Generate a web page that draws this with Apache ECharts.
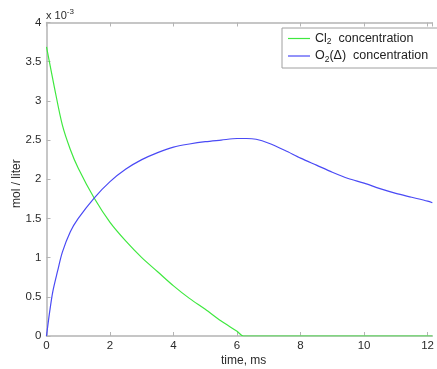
<!DOCTYPE html>
<html><head><meta charset="utf-8">
<script src="https://cdn.jsdelivr.net/npm/echarts@6/dist/echarts.min.js"></script>
<style>html,body{margin:0;padding:0;background:#fff}#c{width:437px;height:369px}</style>
</head><body><div id="c"></div>
<script>
// time in ms, concentrations in units of 1e-3 mol/liter
const cl2Time = [0, 0.25, 0.5, 0.75, 1.0, 1.5, 2.0, 2.5, 3.0, 3.5, 4.0, 4.5, 5.0, 5.5, 6.0, 6.2, 7, 8, 9, 10, 11, 12, 12.15];
const cl2Conc = [3.69, 3.17, 2.69, 2.38, 2.14, 1.76, 1.45, 1.21, 1.0, 0.82, 0.64, 0.48, 0.34, 0.19, 0.06, 0, 0, 0, 0, 0, 0, 0, 0];
const o2Time = [0, 0.1, 0.2, 0.35, 0.5, 0.75, 1.0, 1.5, 2.0, 2.5, 3.0, 3.5, 4.0, 4.5, 5.0, 5.5, 6.0, 6.3, 6.6, 7.0, 7.5, 8.0, 8.5, 9.0, 9.5, 10.0, 10.5, 11.0, 11.5, 12.0, 12.15];
const o2Conc = [0, 0.31, 0.57, 0.83, 1.07, 1.33, 1.50, 1.76, 1.97, 2.13, 2.25, 2.34, 2.41, 2.45, 2.48, 2.50, 2.52, 2.52, 2.51, 2.46, 2.37, 2.27, 2.18, 2.09, 2.01, 1.95, 1.88, 1.82, 1.77, 1.72, 1.70];
const seriesNames = ['Cl2 concentration', 'O2(Δ) concentration'];
const xLabel = 'time, ms';
const yLabel = 'mol / liter';

const font = 'Liberation Sans, Arial, sans-serif';
const axisColor = '#b4b4b4';
const textColor = '#2a2a2a';
const chart = echarts.init(document.getElementById('c'));
chart.setOption({
  animation: false,
  grid: {left: 46.5, right: 0, top: 22.5, bottom: 33, containLabel: false},
  xAxis: [{
    type: 'value', min: 0, max: 12.15, interval: 2,
    axisLine: {lineStyle: {color: axisColor, width: 1.5}},
    axisTick: {inside: true, length: 4, lineStyle: {color: axisColor}},
    axisLabel: {color: textColor, fontFamily: font, fontSize: 11.5, margin: 4, showMaxLabel: false},
    splitLine: {show: false}
  }, {
    type: 'value', min: 0, max: 12.15, interval: 2, position: 'top',
    axisLine: {show: true, lineStyle: {color: axisColor, width: 1.5}},
    axisTick: {inside: true, length: 4, lineStyle: {color: axisColor}},
    axisLabel: {show: false}, splitLine: {show: false}
  }],
  yAxis: [{
    type: 'value', min: 0, max: 4, interval: 0.5,
    axisLine: {show: true, lineStyle: {color: axisColor, width: 1.5}},
    axisTick: {show: true, inside: true, length: 4, lineStyle: {color: axisColor}},
    axisLabel: {color: textColor, fontFamily: font, fontSize: 11.5, margin: 5},
    splitLine: {show: false}
  }],
  legend: {
    orient: 'vertical', left: 282, top: 28,
    padding: [4, 40, 4, 6], itemGap: 3,
    itemWidth: 22, itemHeight: 1.2, icon: 'rect',
    borderColor: '#a0a0a0', borderWidth: 1, backgroundColor: '#fff',
    data: seriesNames,
    formatter: function (n) {
      if (n === seriesNames[0]) return 'Cl{sub|2}  concentration';
      return 'O{sub|2}(Δ)  concentration';
    },
    textStyle: {
      color: '#222', fontFamily: font, fontSize: 12.5,
      rich: {sub: {fontSize: 8.5, fontFamily: font, color: '#222', padding: [7, 0, 0, 0]}}
    }
  },
  graphic: [
    {type: 'text', left: 46, top: 8, style: {
      text: 'x 10{sup|-3}', fill: textColor, font: '11px ' + font,
      rich: {sup: {fontSize: 8, fontFamily: font, fill: textColor, padding: [0, 0, 7, 0]}}
    }},
    {type: 'text', left: 221, top: 355, style: {text: xLabel, fill: textColor, font: '12px ' + font}},
    {type: 'text', x: 11, y: 208, rotation: Math.PI / 2, style: {text: yLabel, fill: textColor, font: '12px ' + font}}
  ],
  series: [{
    name: seriesNames[0], type: 'line', symbol: 'none', smooth: 0.3,
    lineStyle: {color: '#3fe83f', width: 1.2}, itemStyle: {color: '#3fe83f'},
    data: cl2Time.map((t, i) => [t, cl2Conc[i]])
  }, {
    name: seriesNames[1], type: 'line', symbol: 'none', smooth: 0.3,
    lineStyle: {color: '#4a4af5', width: 1.2}, itemStyle: {color: '#4a4af5'},
    data: o2Time.map((t, i) => [t, o2Conc[i]])
  }]
});
</script></body></html>
